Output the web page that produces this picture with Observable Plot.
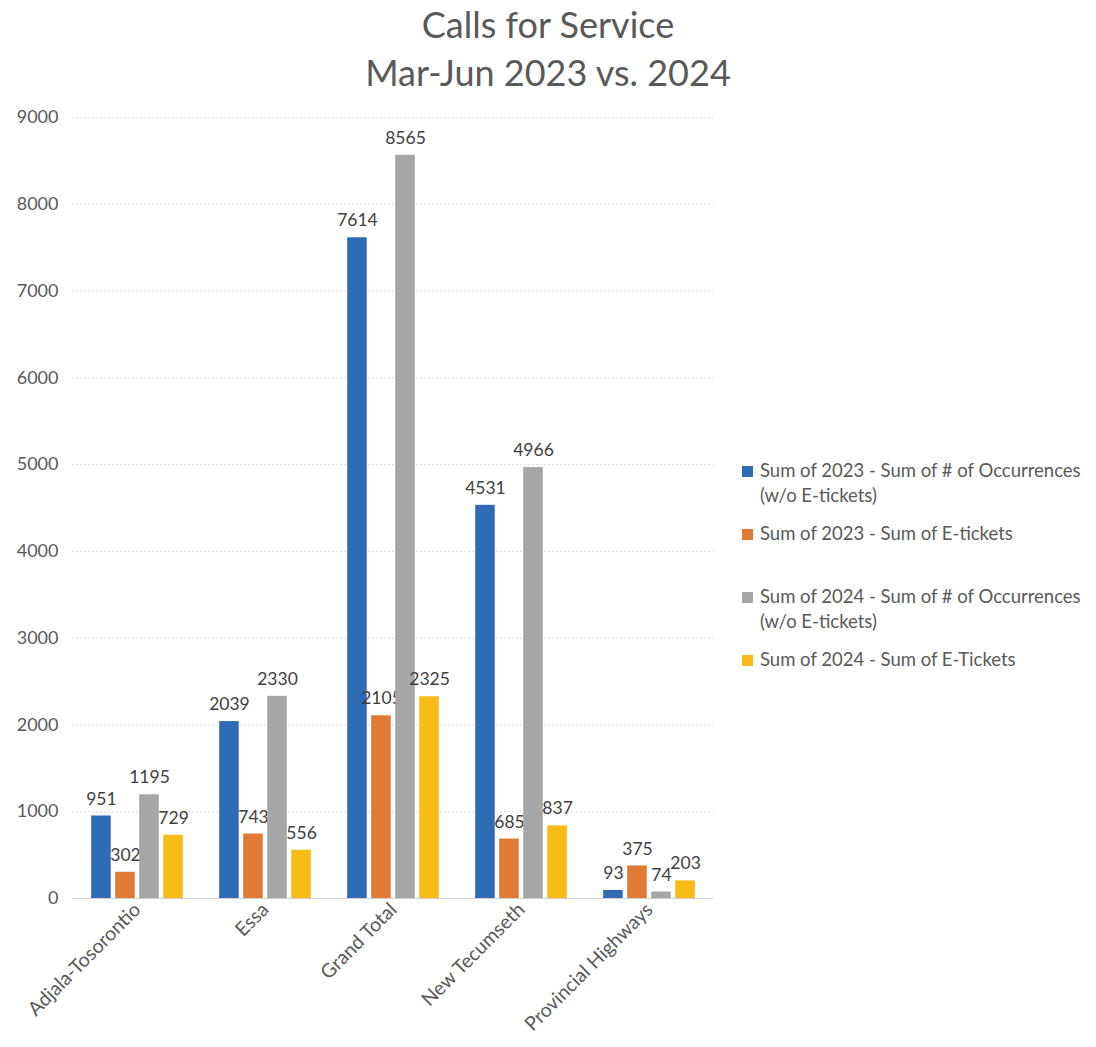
<!DOCTYPE html>
<html>
<head>
<meta charset="utf-8">
<script src="https://cdn.jsdelivr.net/npm/d3@7"></script>
<script src="https://cdn.jsdelivr.net/npm/@observablehq/plot@0.6"></script>
<style>
  body { margin: 0; background: #fff; font-family: Lato, "Open Sans", sans-serif; }
  #wrap { position: relative; width: 1096px; height: 1047px; overflow: hidden; }
  #title { height: 100px; text-align: center; color: #595959; font-size: 36px; line-height: 48px; padding-top: 0px; box-sizing: border-box; }
  #title div { margin: 0; }
  #legend { position: absolute; left: 742px; top: 458px; color: #595959; font-size: 18.5px; line-height: 25px; }
  .item { position: absolute; left: 0; white-space: nowrap; }
  .sw { position: absolute; left: 0; top: 8px; width: 11px; height: 11px; }
  .lab { position: absolute; left: 18px; top: 0; }
</style>
</head>
<body>
<div id="wrap">
  <div id="title"><div>Calls for Service</div><div>Mar-Jun 2023 vs. 2024</div></div>
  <div id="chart"></div>
  <div id="legend"></div>
</div>
<script>
const categories = ["Adjala-Tosorontio", "Essa", "Grand Total", "New Tecumseth", "Provincial Highways"];
const seriesNames = [
  "Sum of 2023 - Sum of # of Occurrences (w/o E-tickets)",
  "Sum of 2023 - Sum of E-tickets",
  "Sum of 2024 - Sum of # of Occurrences (w/o E-tickets)",
  "Sum of 2024 - Sum of E-Tickets"
];
const legendLines = [
  ["Sum of 2023 - Sum of # of Occurrences", "(w/o E-tickets)"],
  ["Sum of 2023 - Sum of E-tickets"],
  ["Sum of 2024 - Sum of # of Occurrences", "(w/o E-tickets)"],
  ["Sum of 2024 - Sum of E-Tickets"]
];
const occ2023 = [951, 2039, 7614, 4531, 93];
const etk2023 = [302, 743, 2105, 685, 375];
const occ2024 = [1195, 2330, 8565, 4966, 74];
const etk2024 = [729, 556, 2325, 837, 203];
const colors = ["#2f6cb5", "#e07a35", "#a6a6a6", "#f9bb17"];
const yTicks = [0, 1000, 2000, 3000, 4000, 5000, 6000, 7000, 8000, 9000];

const seriesValues = [occ2023, etk2023, occ2024, etk2024];
const data = [];
seriesValues.forEach((vals, si) => vals.forEach((v, ci) => data.push({cat: categories[ci], series: si, value: v})));

const W = 1096, H = 947, ml = 72, mr = 383, mt = 17, mb = 149;
const pInner = 0.25, pOuter = 0.125;
const step = (W - ml - mr) / (categories.length - pInner + 2 * pOuter);
const bw = step * (1 - pInner);
const sub = bw / 4;
const gap = sub * 0.09;

const marks = [
  Plot.ruleY(yTicks.filter(d => d > 0), {stroke: "#dadada", strokeWidth: 1, strokeDasharray: "2,2"}),
  Plot.ruleY([0], {stroke: "#d0d0d0", strokeWidth: 1})
];
seriesValues.forEach((vals, si) => {
  const sd = data.filter(d => d.series === si);
  marks.push(Plot.barY(sd, {x: "cat", y: "value", fill: colors[si],
    insetLeft: gap + si * sub, insetRight: gap + (3 - si) * sub}));
  marks.push(Plot.text(sd, {x: "cat", y: "value", text: d => String(d.value),
    dx: (si - 1.5) * sub, dy: -17, fill: "#404040", fontSize: 17.5}));
});
marks.push(Plot.axisY({ticks: yTicks, tickFormat: d => String(d), tickSize: 0, tickPadding: 14, fontSize: 18, color: "#595959", label: null}));
marks.push(Plot.axisX({tickSize: 0, tickPadding: 8, tickRotate: -45, fontSize: 19.5, color: "#595959", label: null}));

const chart = Plot.plot({
  width: W, height: H,
  marginLeft: ml, marginRight: mr, marginTop: mt, marginBottom: mb,
  style: {fontFamily: "Lato, 'Open Sans', sans-serif", background: "#fff", color: "#595959"},
  x: {domain: categories, paddingInner: pInner, paddingOuter: pOuter},
  y: {domain: [0, 9000]},
  marks
});
document.getElementById("chart").appendChild(chart);

const leg = document.getElementById("legend");
const tops = [0, 63, 126, 189];
legendLines.forEach((lines, i) => {
  const it = document.createElement("div");
  it.className = "item";
  it.style.top = tops[i] + "px";
  const sw = document.createElement("div");
  sw.className = "sw"; sw.style.background = colors[i];
  const lab = document.createElement("div");
  lab.className = "lab";
  lab.innerHTML = lines.join("<br>");
  it.appendChild(sw); it.appendChild(lab);
  leg.appendChild(it);
});
</script>
</body>
</html>
